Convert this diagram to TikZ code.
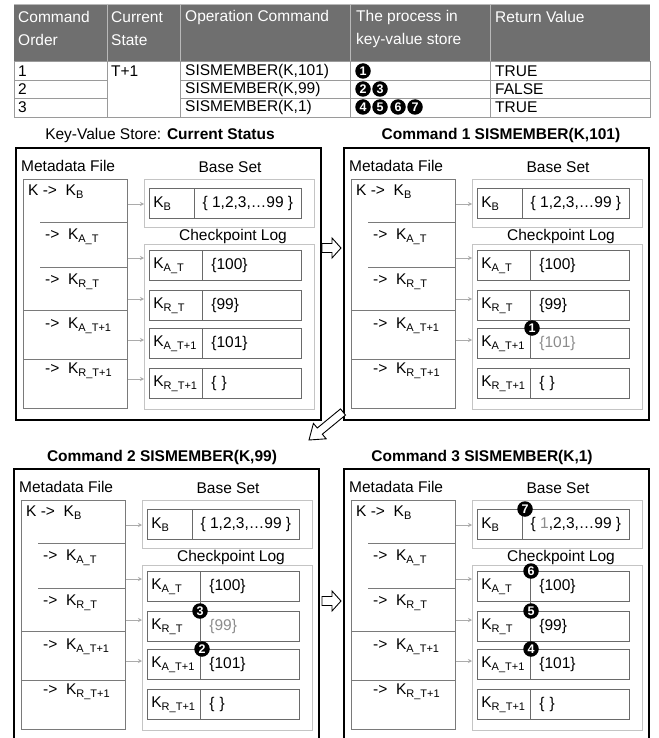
\documentclass[tikz,border=0pt]{standalone}
\usepackage{fontspec}
\setmainfont{Liberation Sans}
\usetikzlibrary{arrows.meta}
\definecolor{hdr}{HTML}{6F6F6F}
\definecolor{hdrline}{HTML}{B8B8B8}
\definecolor{tline}{HTML}{9A9A9A}
\definecolor{outerg}{HTML}{C4C4C4}
\definecolor{innerg}{HTML}{6A6A6A}
\definecolor{metag}{HTML}{7A7A7A}
\definecolor{arrg}{HTML}{ABABAB}
\definecolor{hl}{HTML}{8C8C8C}
\newcommand\Kx[1]{K\raisebox{-0.4ex}{\fontsize{11}{11}\selectfont #1}}
\tikzset{
  lbl/.style={inner sep=0pt, font=\fontsize{15.5}{18}\selectfont},
  blbl/.style={inner sep=0pt, font=\bfseries\fontsize{15.5}{18}\selectfont},
  htxt/.style={inner sep=0pt, align=left, text=white, font=\fontsize{15.5}{23}\selectfont},
  panelbox/.style={draw=black, line width=2.2pt, inner sep=0pt},
  metabox/.style={draw=metag, line width=0.8pt, inner sep=0pt},
  mline/.style={draw=metag, line width=0.8pt},
  outerbox/.style={draw=outerg, line width=1.3pt, inner sep=0pt},
  cellL/.style={draw=innerg, line width=0.8pt, inner xsep=4pt, inner ysep=0pt, minimum height=30pt, align=left, font=\fontsize{15.5}{18}\selectfont},
  cellR/.style={draw=innerg, line width=0.8pt, inner xsep=9pt, inner ysep=0pt, minimum height=30pt, text width=81pt, align=left, font=\fontsize{15.5}{18}\selectfont},
  cellC/.style={draw=innerg, line width=0.8pt, inner sep=0pt, minimum height=30pt, font=\fontsize{15.5}{18}\selectfont},
  garr/.style={draw=arrg, line width=0.8pt, -{Stealth[length=4pt,width=4pt]}},
  cnum/.style={circle, fill=black, inner sep=0pt, minimum size=15.5pt, text=white, font=\bfseries\fontsize{12.5}{12.5}\selectfont},
  blockarr/.style={draw=black, line width=0.9pt, fill=white, line join=miter},
}
% #1 prefix, #2 dx, #3 dy, #4 panel height, #5 base value, #6 R_T value, #7 A_T+1 value
\newcommand\kvpanel[7]{%
\begin{scope}[shift={(#2,#3)}]
  \node[panelbox, anchor=north west, minimum width=305pt, minimum height=#4pt] (#1box) at (15,147) {};
  \node[lbl, anchor=west] (#1mf) at (21,166) {Metadata File};
  \node[metabox, anchor=north west, minimum width=104pt, minimum height=229pt] (#1meta) at (23,179) {};
  \draw[mline] (40,222) -- (127,222);
  \draw[mline] (40,267) -- (127,267);
  \draw[mline] (23,310) -- (127,310);
  \draw[mline] (23,359) -- (127,359);
  \node[lbl, anchor=west] (#1m0) at (28,192) {K -> \ \Kx{B}};
  \node[lbl, anchor=west] (#1m1) at (45,237) {-> \ \Kx{A\_T}};
  \node[lbl, anchor=west] (#1m2) at (45,282) {-> \ \Kx{R\_T}};
  \node[lbl, anchor=west] (#1m3) at (45,326) {-> \ \Kx{A\_T+1}};
  \node[lbl, anchor=west] (#1m4) at (45,371) {-> \ \Kx{R\_T+1}};
  \node[lbl] (#1bs) at (230,167) {Base Set};
  \node[outerbox, anchor=north west, minimum width=170pt, minimum height=48pt] (#1base) at (144,179) {};
  \node[cellL, anchor=north west, text width=37pt] (#1bk) at (149,188) {\Kx{B}};
  \node[cellC, anchor=north west, minimum width=107pt] (#1bv) at (194,188) {#5};
  \node[lbl] (#1cl) at (233,236) {Checkpoint Log};
  \node[outerbox, anchor=north west, minimum width=170pt, minimum height=165pt] (#1ck) at (144,244) {};
  \node[cellL, anchor=north west, text width=45pt] (#1r1k) at (149,250) {\Kx{A\_T}};
  \node[cellR, anchor=north west] (#1r1v) at (202,250) {\{100\}};
  \node[cellL, anchor=north west, text width=45pt] (#1r2k) at (149,290) {\Kx{R\_T}};
  \node[cellR, anchor=north west] (#1r2v) at (202,290) {#6};
  \node[cellL, anchor=north west, text width=45pt] (#1r3k) at (149,328) {\Kx{A\_T+1}};
  \node[cellR, anchor=north west] (#1r3v) at (202,328) {#7};
  \node[cellL, anchor=north west, text width=45pt] (#1r4k) at (149,368) {\Kx{R\_T+1}};
  \node[cellR, anchor=north west] (#1r4v) at (202,368) {\{ \}};
  \draw[garr] (#1meta.east |- 0,204) -- (#1base.west |- 0,204);
  \draw[garr] (#1meta.east |- 0,258) -- (#1ck.west |- 0,258);
  \draw[garr] (#1meta.east |- 0,299) -- (#1ck.west |- 0,299);
  \draw[garr] (#1meta.east |- 0,340) -- (#1ck.west |- 0,340);
\end{scope}}

\begin{document}
\begin{tikzpicture}[x=1pt,y=-1pt]
\useasboundingbox (0,0) rectangle (658,738);
\fill[white] (0,0) rectangle (658,738);
\clip (0,0) rectangle (658,738);

% ---------- table ----------
\fill[hdr] (14,4) rectangle (650,61);
\draw[hdrline, line width=0.8pt] (14,4) -- (650,4);
\foreach \xx in {107,180,350,490} \draw[hdrline, line width=0.8pt] (\xx,4) -- (\xx,61);
\draw[tline, line width=0.8pt] (14,61) rectangle (650,117);
\foreach \xx in {107,180,350,490} \draw[tline, line width=0.8pt] (\xx,61) -- (\xx,117);
\draw[tline, line width=0.8pt] (14,80) -- (107,80) (180,80) -- (650,80);
\draw[tline, line width=0.8pt] (14,98) -- (107,98) (180,98) -- (650,98);

\node[htxt, anchor=west] (h1) at (18,28.5) {Command\\Order};
\node[htxt, anchor=west] (h2) at (111,28.5) {Current\\State};
\node[htxt, anchor=west] (h3) at (185,17) {Operation Command};
\node[htxt, anchor=west] (h4) at (356,28.5) {The process in\\key-value store};
\node[htxt, anchor=west] (h5) at (495,17) {Return Value};

\node[lbl, anchor=west] (c11) at (18,71) {1};
\node[lbl, anchor=west] (c21) at (18,89) {2};
\node[lbl, anchor=west] (c31) at (18,107) {3};
\node[lbl, anchor=west] (cst) at (111,71) {T+1};
\node[lbl, anchor=west] (c13) at (185,71) {SISMEMBER(K,101)};
\node[lbl, anchor=west] (c23) at (185,89) {SISMEMBER(K,99)};
\node[lbl, anchor=west] (c33) at (185,107) {SISMEMBER(K,1)};
\node[lbl, anchor=west] (c15) at (495,71) {TRUE};
\node[lbl, anchor=west] (c25) at (495,89) {FALSE};
\node[lbl, anchor=west] (c35) at (495,107) {TRUE};
\node[cnum] (tn1) at (363,71) {1};
\node[cnum] (tn2) at (363,89) {2};
\node[cnum] (tn3) at (380,89) {3};
\node[cnum] (tn4) at (363,107) {4};
\node[cnum] (tn5) at (380,107) {5};
\node[cnum] (tn6) at (398,107) {6};
\node[cnum] (tn7) at (415,107) {7};

% ---------- panels ----------
\node[lbl] (t1) at (160,135) {Key-Value Store: \textbf{Current Status}};
\node[blbl] (t2) at (501,135) {Command 1 SISMEMBER(K,101)};
\node[blbl] (t3) at (162,457) {Command 2 SISMEMBER(K,99)};
\node[blbl] (t4) at (482,457) {Command 3 SISMEMBER(K,1)};

\kvpanel{pa}{0}{0}{272}{\{ 1,2,3,…99 \}}{\{99\}}{\{101\}}
\draw[garr] (pameta.east |- 0,379) -- (pack.west |- 0,379);
\kvpanel{pb}{328}{0}{272}{\{ 1,2,3,…99 \}}{\{99\}}{\textcolor{hl}{\{101\}}}
\kvpanel{pc}{-2}{321}{300}{\{ 1,2,3,…99 \}}{\textcolor{hl}{\{99\}}}{\{101\}}
\kvpanel{pd}{328}{321}{300}{\{ \textcolor{hl}{1},2,3,…99 \}}{\{99\}}{\{101\}}

% connecting lines along the lookup path
\draw[innerg, line width=0.8pt] (pcr1v.south west) -- (pcr3v.north west);
\draw[innerg, line width=0.8pt] (pdr1v.north west) -- (pdr3v.south west);

% step markers
\node[cnum] (pb1) at ([xshift=2pt]pbr3v.north west) {1};
\node[cnum] (pc3) at ([xshift=0pt]pcr2v.north west) {3};
\node[cnum] (pc2) at ([xshift=2pt]pcr3v.north west) {2};
\node[cnum] (pd7) at ([xshift=3pt]pdbv.north west) {7};
\node[cnum] (pd6) at ([xshift=1pt]pdr1v.north west) {6};
\node[cnum] (pd5) at ([xshift=1pt]pdr2v.north west) {5};
\node[cnum] (pd4) at ([xshift=1pt]pdr3v.north west) {4};

% ---------- block arrows ----------
\draw[blockarr] (322,243.5) -- (332,243.5) -- (332,238) -- (341,248) -- (332,258) -- (332,252.5) -- (322,252.5) -- cycle;
\draw[blockarr] (322,596.5) -- (332,596.5) -- (332,591) -- (341,601) -- (332,611) -- (332,605.5) -- (322,605.5) -- cycle;
\draw[blockarr] (340.5,408.9) -- (317.3,428.0) -- (313.4,423.4) -- (309,440) -- (326.2,438.8) -- (322.3,434.2) -- (345.5,415.1) -- cycle;
\end{tikzpicture}
\end{document}
